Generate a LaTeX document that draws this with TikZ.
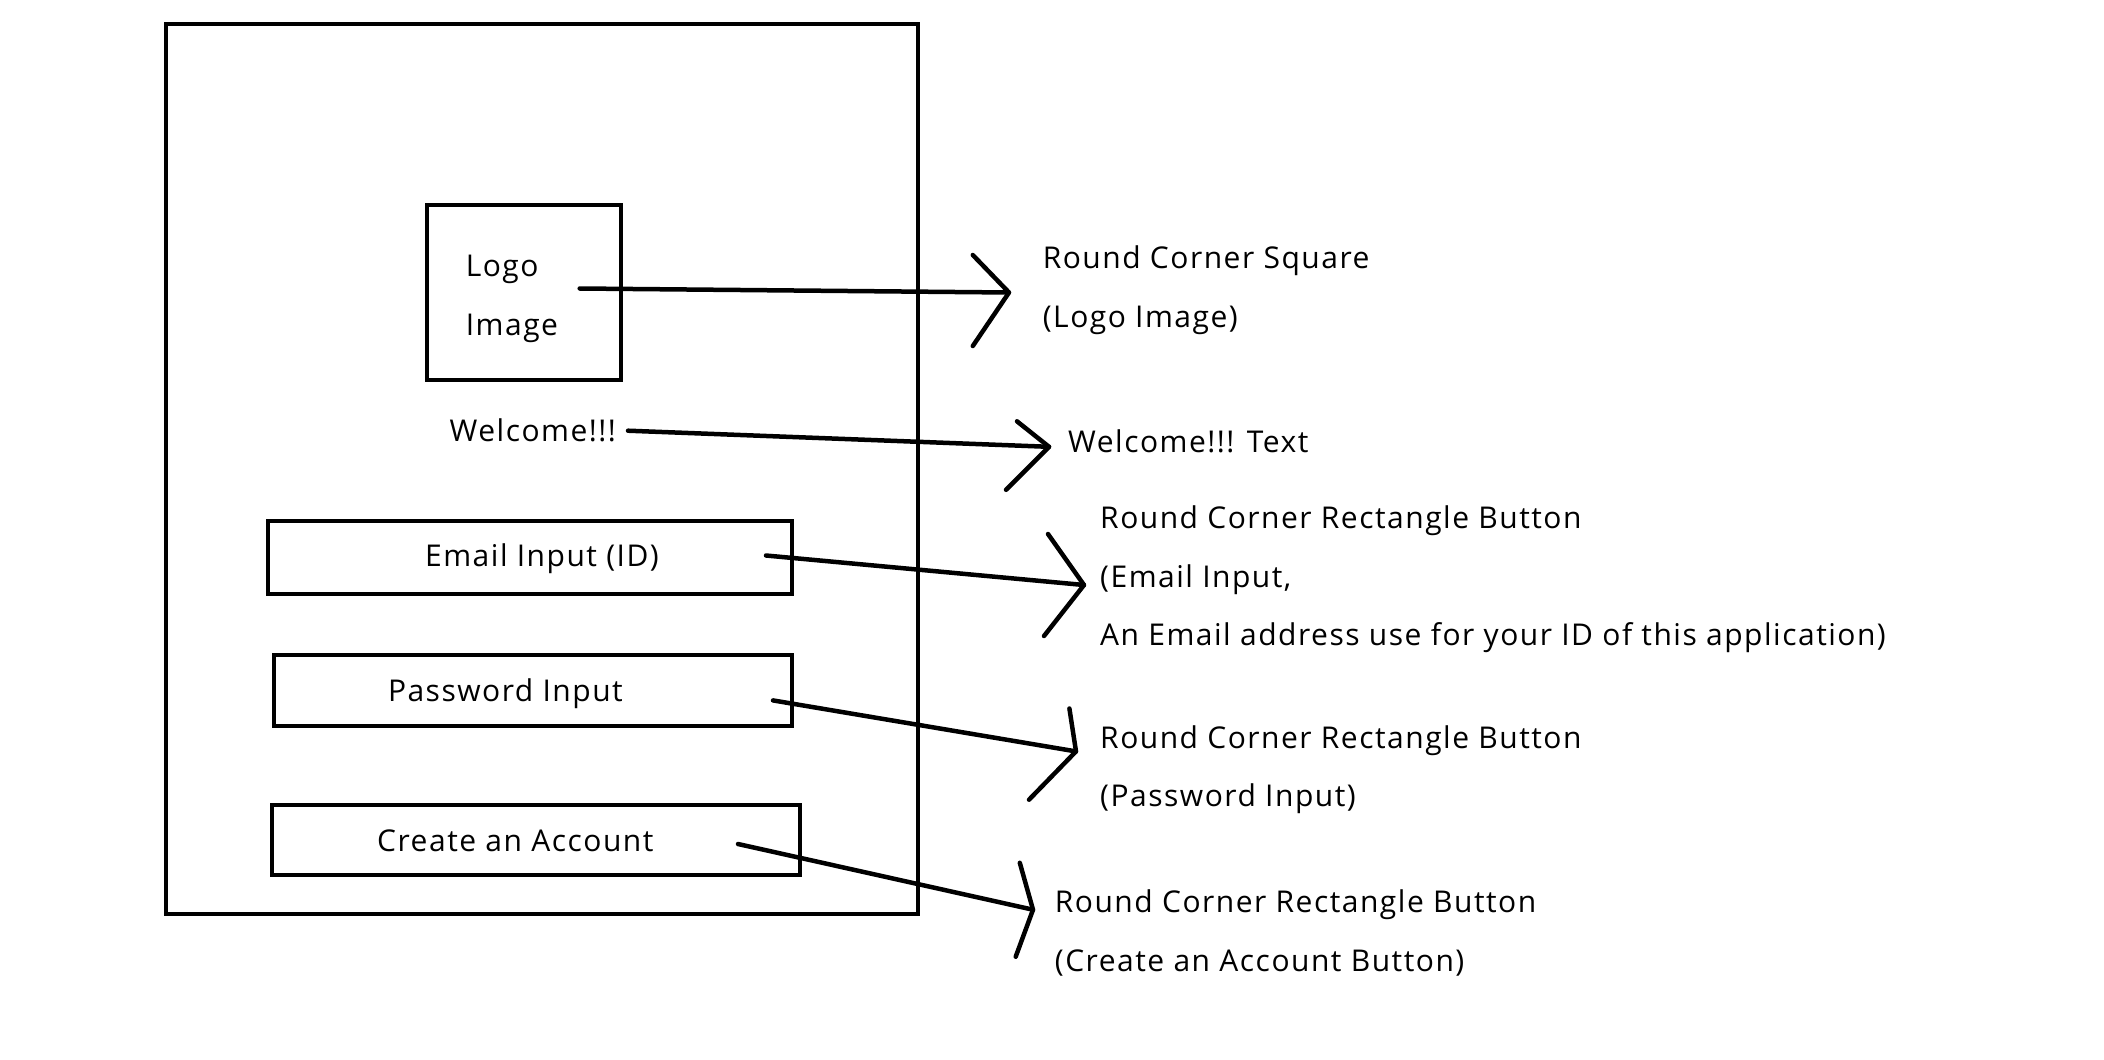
\documentclass[tikz,border=0pt]{standalone}
\usepackage{fontspec}
\setmainfont[LetterSpace=5]{Open Sans}
\begin{document}
\begin{tikzpicture}[x=1pt,y=-1pt,
  lbl/.style={font=\fontsize{30}{30}\selectfont, inner sep=0pt, anchor=base west},
  clbl/.style={font=\fontsize{30}{30}\selectfont, inner sep=0pt, anchor=base},
  boxframe/.style={draw, line width=4pt, inner sep=0pt},
  conn/.style={line width=4.5pt, line cap=round, line join=round}]
\useasboundingbox[fill=white] (0,0) rectangle (2104,1060);

% screen frame and widgets
\node[boxframe, minimum width=752pt, minimum height=890pt] (screen) at (542,469) {};
\node[boxframe, minimum width=194.6pt, minimum height=174.4pt] (logo) at (524,292.5) {};
\node[boxframe, minimum width=523.3pt, minimum height=73.8pt] (email) at (530,557.5) {};
\node[boxframe, minimum width=518pt, minimum height=71.2pt] (pwd) at (532.7,690.4) {};
\node[boxframe, minimum width=527.3pt, minimum height=69.9pt] (create) at (536,840) {};

% texts inside
\node[lbl] (logoA) at (465.6,276) {Logo};
\node[lbl] (logoB) at (465.6,335) {Image};
\node[lbl] (welcome) at (449.5,441) {Welcome!!!};
\node[clbl] (emailT) at (542,566) {Email Input (ID)};
\node[lbl] (pwdT) at (387.8,701) {Password Input};
\node[lbl] (createT) at (377,851) {Create an Account};

% annotations
\node[lbl] (n1a) at (1042.6,268) {Round Corner Square};
\node[lbl] (n1b) at (1042.6,327) {(Logo Image)};
\node[lbl] (n2a) at (1068,452) {Welcome!!! Text};
\node[lbl] (n3a) at (1100,528) {Round Corner Rectangle Button};
\node[lbl] (n3b) at (1100,587) {(Email Input,};
\node[lbl] (n3c) at (1100,645) {An Email address use for your ID of this application)};
\node[lbl] (n4a) at (1100,748) {Round Corner Rectangle Button};
\node[lbl] (n4b) at (1100,806) {(Password Input)};
\node[lbl] (n5a) at (1054.7,912) {Round Corner Rectangle Button};
\node[lbl] (n5b) at (1054.7,971) {(Create an Account Button)};

% connector points
\coordinate (s1) at (579.7,288.5);  \coordinate (t1) at (1009,292.5);
\coordinate (t1u) at (972.8,255);   \coordinate (t1d) at (972.8,346);
\coordinate (s2) at (628,430.7);    \coordinate (t2) at (1049,446.8);
\coordinate (t2u) at (1017,421.3);  \coordinate (t2d) at (1006,489.8);
\coordinate (s3) at (766,555.5);    \coordinate (t3) at (1084,585);
\coordinate (t3u) at (1048,534);    \coordinate (t3d) at (1044,636);
\coordinate (s4) at (773,700.4);    \coordinate (t4) at (1076,751.4);
\coordinate (t4u) at (1069.4,708.5);\coordinate (t4d) at (1029,799.7);
\coordinate (s5) at (738,844);      \coordinate (t5) at (1033,909.7);
\coordinate (t5u) at (1019.8,862.8);\coordinate (t5d) at (1015.7,956.7);

\draw[conn] (s1) -- (t1); \draw[conn] (t1u) -- (t1) -- (t1d);
\draw[conn] (s2) -- (t2); \draw[conn] (t2u) -- (t2) -- (t2d);
\draw[conn] (s3) -- (t3); \draw[conn] (t3u) -- (t3) -- (t3d);
\draw[conn] (s4) -- (t4); \draw[conn] (t4u) -- (t4) -- (t4d);
\draw[conn] (s5) -- (t5); \draw[conn] (t5u) -- (t5) -- (t5d);
\end{tikzpicture}
\end{document}
